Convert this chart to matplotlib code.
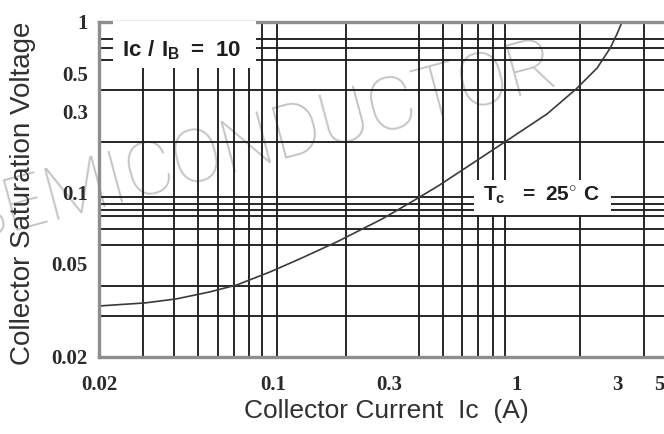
import numpy as np
import matplotlib
matplotlib.use('Agg')
import matplotlib.pyplot as plt
from matplotlib.patches import Rectangle
from matplotlib.ticker import FixedLocator, FixedFormatter, NullFormatter

# VCE(sat) versus collector current, Ic/Ib = 10, Tc = 25 C
ic = [0.02, 0.0306, 0.0411, 0.0558, 0.0717, 0.0973, 0.129, 0.183, 0.281,
      0.377, 0.478, 0.647, 0.909, 1.40, 1.92, 2.41, 2.78, 2.99, 3.16]
vce_sat = [0.033, 0.034, 0.0354, 0.0379, 0.0406, 0.0461, 0.0524, 0.0619,
           0.0775, 0.0925, 0.110, 0.146, 0.201, 0.290, 0.406, 0.538, 0.705,
           0.851, 1.0]

x_ticks = [0.02, 0.1, 0.3, 1, 3, 5]
x_ticklabels = ['0.02', '0.1', '0.3', '1', '3', '5']
y_ticks = [0.02, 0.05, 0.1, 0.3, 0.5, 1]
y_ticklabels = ['0.02', '0.05', '0.1', '0.3', '0.5', '1']

# ruling of the chart paper
x_rules = [0.03, 0.04, 0.05, 0.06, 0.07, 0.08, 0.09, 0.1, 0.104,
           0.2, 0.3, 0.4, 0.5, 0.6, 0.7, 0.8, 0.9, 1, 2, 3, 4]
y_rules = [0.03, 0.04, 0.05, 0.06, 0.07, 0.08, 0.085, 0.09, 0.096, 0.1,
           0.2, 0.3, 0.4, 0.5, 0.6, 0.7, 0.8]


def warped_log(values, positions):
    """Log axis whose decades get their own lengths, like printed log paper."""
    logs = np.log10(values)
    pos = np.asarray(positions, float)

    def forward(v):
        v = np.clip(np.asarray(v, float), 1e-6, None)
        return np.interp(np.log10(v), logs, pos)

    def inverse(u):
        return 10 ** np.interp(np.asarray(u, float), pos, logs)

    return forward, inverse


def main():
    plt.rcParams['mathtext.fontset'] = 'custom'
    plt.rcParams['mathtext.rm'] = 'Liberation Sans'
    plt.rcParams['mathtext.bf'] = 'Liberation Sans:bold'

    fig = plt.figure(figsize=(6.64, 4.34), dpi=100, facecolor='white')
    ax = fig.add_axes([99 / 664, 77 / 434, 579 / 664, 335 / 434])
    ax.set_facecolor('none')

    ax.set_xscale('function', functions=warped_log(
        [1e-3, 0.02, 0.1, 1, 100], [-225, 99, 273, 516, 940]))
    ax.set_yscale('function', functions=warped_log(
        [1e-3, 0.02, 0.1, 1, 100], [-229, 77, 241, 412, 754]))
    ax.set_xlim(0.02, 5.8)
    ax.set_ylim(0.02, 1)

    ax.xaxis.set_major_locator(FixedLocator(x_ticks))
    ax.xaxis.set_major_formatter(FixedFormatter(x_ticklabels))
    ax.yaxis.set_major_locator(FixedLocator(y_ticks))
    ax.yaxis.set_major_formatter(FixedFormatter(y_ticklabels))
    ax.xaxis.set_minor_locator(FixedLocator(x_rules))
    ax.yaxis.set_minor_locator(FixedLocator(y_rules))
    ax.xaxis.set_minor_formatter(NullFormatter())
    ax.yaxis.set_minor_formatter(NullFormatter())
    ax.grid(which='minor', color='#1e1e1e', linewidth=1.35, zorder=1)
    ax.set_axisbelow(True)

    ax.tick_params(which='both', length=0)
    ax.tick_params(axis='x', pad=13)
    ax.tick_params(axis='y', pad=8)
    for lbl in ax.get_xticklabels() + ax.get_yticklabels():
        lbl.set_fontfamily('Liberation Serif')
        lbl.set_fontweight('bold')
        lbl.set_fontsize(15)
        lbl.set_color('#2a2a2a')
    # the last current label sits against the right edge
    ax.get_xticklabels()[-1].set_horizontalalignment('right')

    for side in ('top', 'left', 'bottom'):
        ax.spines[side].set_color('#8e8e8e')
        ax.spines[side].set_linewidth(2.4)
    ax.spines['right'].set_visible(False)

    ax.plot(ic, vce_sat, color='#3a3a3a', linewidth=1.2, zorder=2.5,
            solid_joinstyle='round')

    # white panels under the two notes
    ax.add_patch(Rectangle((0.024, 0.863), 0.247, 0.14, transform=ax.transAxes,
                           facecolor='white', edgecolor='none', zorder=3,
                           clip_on=False))
    ax.add_patch(Rectangle((0.648, 0.424), 0.237, 0.104, transform=ax.transAxes,
                           facecolor='white', edgecolor='none', zorder=3))
    ax.text(0.143, 0.896, r'$\mathbf{Ic\ /\ I_B\ =\ 10}$', transform=ax.transAxes,
            ha='center', va='baseline', fontsize=16, color='#1e1e1e', zorder=4)
    ax.text(0.764, 0.466, r'$\mathbf{T_c\ \ =\ 25^{\circ}\ C}$',
            transform=ax.transAxes, ha='center', va='baseline', fontsize=15,
            color='#1e1e1e', zorder=4)

    ax.set_xlabel('Collector Current  Ic  (A)', fontsize=19,
                  fontfamily='Liberation Sans', color='#303030')
    ax.xaxis.set_label_coords(0.497, -0.125)
    ax.set_ylabel('Collector Saturation Voltage', fontsize=20,
                  fontfamily='Liberation Sans', color='#303030')
    ax.yaxis.set_label_coords(-0.108, 0.49)

    fig.text(0.389, 0.668, 'SEMICONDUCTOR', fontsize=54,
             family=['Roboto', 'DejaVu Sans'], fontweight='light',
             color='#c4c4c4', rotation=15, rotation_mode='anchor',
             ha='center', va='center', zorder=-1)

    fig.savefig('out.png', dpi=100, facecolor='white')


if __name__ == '__main__':
    main()
